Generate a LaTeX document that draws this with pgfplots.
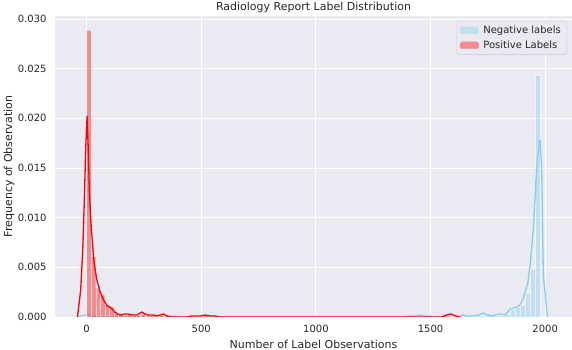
\documentclass[border=0pt]{standalone}
\usepackage{fontspec}
\setmainfont{DejaVu Sans}
\usepackage{pgfplots}
\pgfplotsset{compat=1.18}
\definecolor{bgc}{HTML}{EAEAF2}
\definecolor{txt}{HTML}{262626}
\definecolor{sky}{HTML}{87CEEB}
\definecolor{legblue}{HTML}{C2DFEF}
\definecolor{legred}{HTML}{F28C91}
\definecolor{legedge}{HTML}{CCCCCC}
\begin{document}
\begin{tikzpicture}
\begin{axis}[
  scale only axis, width=517bp, height=301bp,
  xmin=-138, xmax=2117, ymin=0, ymax=0.0303,
  axis background/.style={fill=bgc},
  axis line style={draw=none},
  major tick length=0pt,
  grid=major, major grid style={white, line width=0.9bp},
  xtick={0,500,1000,1500,2000},
  ytick={0,0.005,0.010,0.015,0.020,0.025,0.030},
  scaled y ticks=false,
  /pgf/number format/assume math mode=true,
  yticklabel style={/pgf/number format/.cd, fixed, fixed zerofill, precision=3, /tikz/.cd,
    font=\fontsize{10bp}{12bp}\selectfont, text=txt, xshift=-5bp},
  xticklabel style={/pgf/number format/1000 sep={},
    font=\fontsize{10bp}{12bp}\selectfont, text=txt, yshift=-5bp},
  title={Radiology Report Label Distribution},
  every axis title/.style={font=\fontsize{11bp}{13bp}\selectfont, text=txt, at={(axis description cs:0.5,1)}, anchor=base, yshift=5.5bp, inner sep=0pt},
  xlabel={Number of Label Observations},
  xlabel style={font=\fontsize{11bp}{13bp}\selectfont, text=txt, at={(axis description cs:0.5,-0.0897)}, anchor=center},
  ylabel={Frequency of Observation},
  ylabel style={font=\fontsize{11bp}{13bp}\selectfont, text=txt, at={(axis description cs:-0.089,0.5)}, anchor=center},
  legend cell align=left,
  legend style={at={(axis description cs:1,1)}, anchor=north east, xshift=-5bp, yshift=-5bp,
    draw=legedge, fill=bgc, rounded corners=2bp, font=\fontsize{10bp}{12bp}\selectfont, text=txt,
    inner xsep=3.5bp, inner ysep=2bp, row sep=1bp, column sep=2bp,
    nodes={inner sep=2.5bp}},
]
\addlegendimage{legend image code/.code={\fill[legblue] (0bp,-3.4bp) rectangle (18.5bp,3.4bp);}}
\addlegendentry{Negative labels}
\addlegendimage{legend image code/.code={\fill[legred] (0bp,-3.4bp) rectangle (18.5bp,3.4bp);}}
\addlegendentry{Positive Labels}

% Negative labels histogram
\addplot[ybar interval, fill=sky, fill opacity=0.4, draw=white, draw opacity=0.6, line width=0.3bp, forget plot]
coordinates {(364,0.0001)(386,0)(1408,0.0001)(1430,0.0001)(1452,0.0002)(1474,0.0001)(1496,0)
(1628,0.0001)(1650,0.0002)(1672,0.0001)(1694,0.0002)(1716,0.0002)(1738,0.0004)(1760,0.0003)
(1782,0.0002)(1804,0.0002)(1826,0.0003)(1848,0.0008)(1870,0.0010)(1892,0.0012)(1914,0.0024)
(1936,0.0048)(1958,0.0243)(1980,0)};

% Negative labels KDE
\addplot[sky, line width=1.3bp, line join=round, forget plot]
coordinates {(-45,0)(-25,0.0001)(-5,0.0002)(10,0.0002)(30,0.0001)(50,0)(340,0)(365,0.0001)(385,0.0001)(405,0)
(1380,0)(1400,0.0001)(1430,0.0001)(1455,0.0002)(1480,0.0001)(1500,0.0001)(1520,0)(1620,0)
(1640,0.0002)(1660,0.0001)(1687,0.0001)(1709,0.0002)(1730,0.0004)(1750,0.0002)(1768,0.0001)
(1781,0.0002)(1803,0.0003)(1825,0.0002)(1847,0.0008)(1876,0.0010)(1890,0.0012)(1905,0.0019)
(1924,0.0034)(1934,0.0051)(1949,0.0091)(1963,0.0151)(1972,0.0170)(1978,0.0178)(1985,0.0148)
(1992,0.0041)(2000,0.0024)(2010,0)};

% Positive labels histogram
\addplot[ybar interval, fill=red, fill opacity=0.4, draw=white, draw opacity=0.6, line width=0.3bp, forget plot]
coordinates {(0,0.0289)(19.7,0.0061)(39.4,0.0029)(59.1,0.0023)(78.8,0.0012)(98.5,0.0011)(118.2,0.0005)
(137.9,0.0003)(157.6,0.0002)(177.3,0.0003)(197,0.0002)(216.7,0.0002)(236.4,0.0003)(256.1,0.0002)
(275.8,0.0002)(295.5,0.0001)(315.2,0.0002)(334.9,0.0001)(354.6,0)(453,0.0001)(472.7,0.0001)
(492.4,0.0001)(512.1,0.0002)(531.8,0.0001)(551.5,0)(1556,0.0001)(1575.7,0.0001)(1595.4,0)};

% Positive labels KDE
\addplot[red, line width=1.3bp, line join=round, forget plot]
coordinates {(-40,0)(-26,0.0027)(-17,0.0067)(-10,0.0118)(-4,0.0170)(2,0.0202)(7,0.0170)(12,0.0125)
(20,0.0090)(32,0.0055)(44,0.0038)(58,0.0026)(72,0.0018)(87,0.0012)(100,0.0010)(112,0.0008)
(123,0.0005)(135,0.0003)(150,0.0002)(165,0.0003)(180,0.0003)(200,0.0002)(220,0.0002)(240,0.0005)
(255,0.0003)(270,0.0002)(290,0.0002)(305,0.0001)(320,0.0002)(335,0.0003)(350,0.0001)(365,0)
(440,0)(455,0.0001)(475,0.0001)(495,0.0001)(518,0.0002)(540,0.0001)(560,0.0001)(580,0)
(1550,0)(1570,0.0002)(1590,0.0003)(1610,0.0001)(1630,0)};
\end{axis}
\pgfresetboundingbox
\path ([shift={(-55bp,-33bp)}]current axis.south west) rectangle ([shift={(0bp,16bp)}]current axis.north east);
\end{tikzpicture}
\end{document}
